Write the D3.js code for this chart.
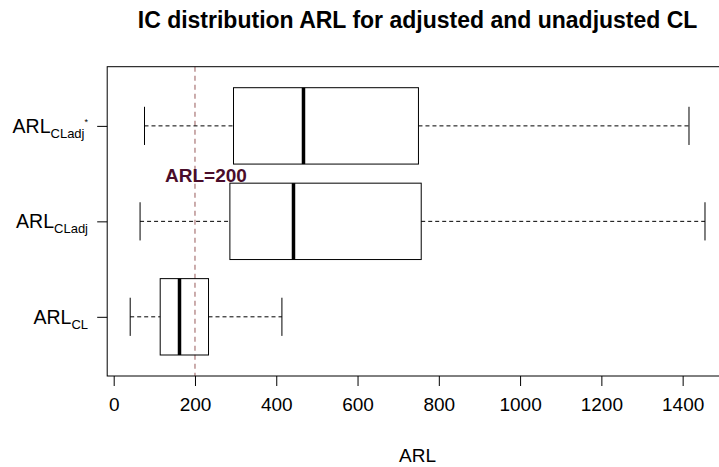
<!DOCTYPE html>
<html><head><meta charset="utf-8">
<script src="https://cdn.jsdelivr.net/npm/d3@7"></script>
<style>body{margin:0;background:#fff}svg{display:block;font-family:"Liberation Sans",Arial,sans-serif}</style>
</head><body>
<svg id="c" width="719" height="467"></svg>
<script>
const categories = ["CL", "CLadj", "CLadj*"];
const whiskerLow = [40.6, 64.9, 75.8];
const q1 = [114.4, 285.9, 294.8];
const medians = [161.9, 442.4, 467.0];
const q3 = [233.3, 756.7, 749.9];
const whiskerHigh = [413.9, 1455.0, 1415.6];
const xTicks = [0, 200, 400, 600, 800, 1000, 1200, 1400];
const refValue = 200;

const svg = d3.select("#c");
const L = 107.2, R = 728, T = 66.7, B = 376;
const x = d3.scaleLinear().domain([-16, 1511.6]).range([L, R]);
const y = d3.scaleLinear().domain([0.38, 3.62]).range([B, T]);

// reference line
svg.append("line").attr("x1", x(refValue)).attr("x2", x(refValue))
  .attr("y1", T).attr("y2", B).attr("stroke", "#b08080").attr("stroke-width", 1.3)
  .attr("stroke-dasharray", "5,4");

const bw = 0.4;
categories.forEach((c, i) => {
  const yc = y(i + 1);
  const g = svg.append("g");
  g.append("line").attr("x1", x(whiskerLow[i])).attr("x2", x(q1[i])).attr("y1", yc).attr("y2", yc)
    .attr("stroke", "#000").attr("stroke-dasharray", "4,3");
  g.append("line").attr("x1", x(q3[i])).attr("x2", x(whiskerHigh[i])).attr("y1", yc).attr("y2", yc)
    .attr("stroke", "#000").attr("stroke-dasharray", "4,3");
  [whiskerLow[i], whiskerHigh[i]].forEach(v => {
    g.append("line").attr("x1", x(v)).attr("x2", x(v)).attr("y1", y(i + 1 - bw / 2)).attr("y2", y(i + 1 + bw / 2))
      .attr("stroke", "#000").attr("stroke-width", 1);
  });
  g.append("rect").attr("x", x(q1[i])).attr("y", y(i + 1 + bw)).attr("width", x(q3[i]) - x(q1[i]))
    .attr("height", y(i + 1 - bw) - y(i + 1 + bw)).attr("fill", "none").attr("stroke", "#000").attr("stroke-width", 1);
  g.append("line").attr("x1", x(medians[i])).attr("x2", x(medians[i]))
    .attr("y1", y(i + 1 + bw)).attr("y2", y(i + 1 - bw)).attr("stroke", "#000").attr("stroke-width", 3.5);
});

// plot frame
svg.append("rect").attr("x", L).attr("y", T).attr("width", R - L).attr("height", B - T)
  .attr("fill", "none").attr("stroke", "#000").attr("stroke-width", 1);

// x axis
const xa = svg.append("g").attr("transform", `translate(0,${B})`)
  .call(d3.axisBottom(x).tickValues(xTicks).tickSize(10).tickPadding(12).tickFormat(d3.format("d")));
xa.select(".domain").remove();
xa.selectAll("text").attr("font-size", 19).attr("fill", "#000").attr("font-family", "Liberation Sans, Arial, sans-serif");

// y axis
const ya = svg.append("g").attr("transform", `translate(${L},0)`)
  .call(d3.axisLeft(y).tickValues([1, 2, 3]).tickSize(10).tickFormat(""));
ya.select(".domain").remove();
categories.forEach((c, i) => {
  const t = svg.append("text").attr("x", 0).attr("y", y(i + 1) + 7).attr("font-size", 19.5).attr("fill", "#000");
  t.append("tspan").text("ARL");
  const sub = c.replace("*", "");
  t.append("tspan").attr("font-size", 13).attr("dy", 5).text(sub);
  if (c.endsWith("*")) t.append("tspan").attr("font-size", 9).attr("dy", -13).text("*");
  const w = t.node().getComputedTextLength();
  t.attr("x", 88 - w);
});

// reference label
svg.append("text").attr("x", x(refValue) + 11).attr("y", 182).attr("text-anchor", "middle")
  .attr("font-size", 19).attr("font-weight", "bold").attr("fill", "#4a0d2a").text("ARL=200");

// title
svg.append("text").attr("x", (L + R) / 2).attr("y", 28).attr("text-anchor", "middle")
  .attr("font-size", 23).attr("font-weight", "bold").attr("fill", "#000")
  .text("IC distribution ARL for adjusted and unadjusted CL");

// x label
svg.append("text").attr("x", (L + R) / 2).attr("y", 462).attr("text-anchor", "middle")
  .attr("font-size", 19).attr("fill", "#000").text("ARL");
</script>
</body></html>
